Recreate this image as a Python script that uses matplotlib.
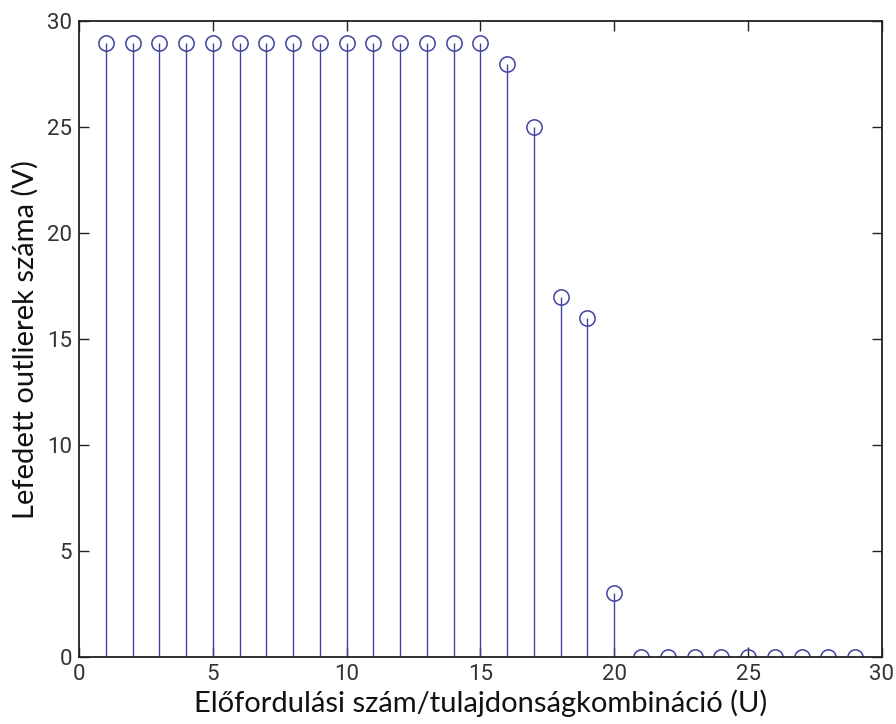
import matplotlib
matplotlib.use('Agg')
import matplotlib.pyplot as plt
import numpy as np

blue = '#3f449e'
dark = '#222222'

# combination index and number of covered outliers
combo = list(range(1, 30))
covered = [29, 29, 29, 29, 29, 29, 29, 29, 29, 29, 29, 29, 29, 29, 29,
           28, 25, 17, 16, 3, 0, 0, 0, 0, 0, 0, 0, 0, 0]

xlabel = 'Előfordulási szám/tulajdonságkombináció (U)'
ylabel = 'Lefedett outlierek száma (V)'

fig = plt.figure(figsize=(8.96, 7.24), dpi=100)
ax = fig.add_axes([0.0882, 0.0925, 0.896, 0.878])

markerline, stemlines, baseline = ax.stem(combo, covered, basefmt=' ')
plt.setp(stemlines, color=blue, linewidth=1.0)
plt.setp(markerline, marker='o', markersize=11, markerfacecolor='none',
         markeredgecolor=blue, markeredgewidth=1.1)

ax.set_xlim(0, 30)
ax.set_ylim(0, 30)
ax.set_xticks(np.arange(0, 31, 5))
ax.set_yticks(np.arange(0, 31, 5))

for s in ax.spines.values():
    s.set_color(dark)
    s.set_linewidth(1.3)

ax.tick_params(direction='in', top=True, right=True, length=7, width=1,
               colors=dark, labelsize=16, pad=5)
for lab in ax.get_xticklabels() + ax.get_yticklabels():
    lab.set_family(['Roboto', 'DejaVu Sans'])
    lab.set_color('#333333')

ax.set_xlabel(xlabel, family=['Lato', 'DejaVu Sans'], fontsize=21,
              labelpad=3, color='#111111')
ax.set_ylabel(ylabel, family=['Lato', 'DejaVu Sans'], fontsize=21,
              labelpad=6, color='#111111')

fig.savefig('out.png', dpi=100, facecolor='white')
